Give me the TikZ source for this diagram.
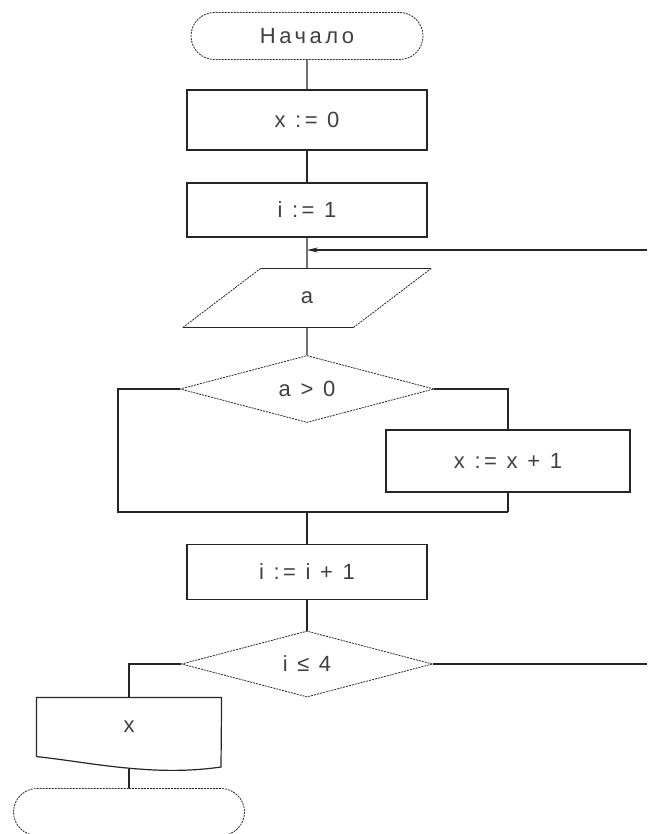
\documentclass[tikz,border=0pt]{standalone}
\usepackage{fontspec}
\newfontfamily\flowfont[LetterSpace=16]{Liberation Sans}
\usetikzlibrary{shapes.geometric,shapes.misc,arrows.meta}

\begin{document}
\begin{tikzpicture}[x=1pt,y=-1pt,color=black!85,line width=1.2pt,
	font=\flowfont\fontsize{22}{26}\selectfont,
	every node/.style={text=black!75,inner sep=0pt},
	proc/.style={draw,rectangle,minimum width=240pt,minimum height=56pt},
	term/.style={draw,rounded rectangle,minimum width=232pt,minimum height=47pt,line width=0.8pt,dash pattern=on 2pt off 1pt},
	cond/.style={draw,diamond,aspect=3.8,minimum width=254pt,minimum height=67pt,line width=0.8pt,dash pattern=on 2pt off 1pt},
	slant/.style={line width=0.8pt,dash pattern=on 2pt off 1pt}]

	\useasboundingbox (0,0) rectangle (647,834);

	% main column
	\node[term] (start) at (307,36) {Начало};
	\node[proc,minimum height=60pt] (x0) at (307,120) {x := 0};
	\node[proc,minimum height=54pt] (i1) at (307,210) {i := 1};
	\node[trapezium,trapezium stretches=true,trapezium left angle=50,trapezium right angle=130,
		minimum width=245pt,minimum height=58pt] (ina) at (307,298) {a};
	\node[cond] (ifa) at (307,389) {a > 0};
	\node[proc,minimum width=244pt,minimum height=62pt] (incx) at (508,461) {x := x + 1};
	\node[proc,minimum height=55pt] (inci) at (307,572) {i := i + 1};
	\node[cond,minimum width=251pt,minimum height=66pt] (ifi) at (307,664) {i ≤ 4};
	\node[minimum width=184pt,minimum height=58pt] (outx) at (129,727) {x};
	\node[term,minimum width=231pt] (stop) at (129,812) {};

	% input box
	\draw (ina.top left corner) -- (ina.top right corner);
	\draw (ina.bottom left corner) -- (ina.bottom right corner);
	\draw[slant] (ina.bottom left corner) -- (ina.top left corner);
	\draw[slant] (ina.bottom right corner) -- (ina.top right corner);

	% output document
	\draw (outx.south west) -- (outx.north west) -- (outx.north east) -- (221,767)
		.. controls (200,770) and (180,771) .. (155,770)
		.. controls (110,768) and (70,760) .. (outx.south west);

	\coordinate (mergeL) at (118,512);
	\coordinate (mergeR) at (508,512);
	\coordinate (loopin) at (647,250);
	\coordinate (loopout) at (647,664);
	\coordinate (outbot) at (129,769);

	% connectors
	\draw (start) -- (x0);
	\draw (x0) -- (i1);
	\draw (i1) -- (ina.north);
	\draw[-{Stealth[length=11pt,width=5pt]}] (loopin) -- (loopin -| i1.south);
	\draw (ina.south) -- (ifa.north);
	\draw (ifa.west) -| (mergeL) -- (mergeR);
	\draw (ifa.east) -| (incx.north);
	\draw (incx.south) -- (mergeR);
	\draw (mergeL -| inci.north) -- (inci.north);
	\draw (inci.south) -- (ifi.north);
	\draw (ifi.east) -- (loopout);
	\draw (ifi.west) -| (outx.north);
	\draw (outbot) -- (stop.north);

\end{tikzpicture}
\end{document}
